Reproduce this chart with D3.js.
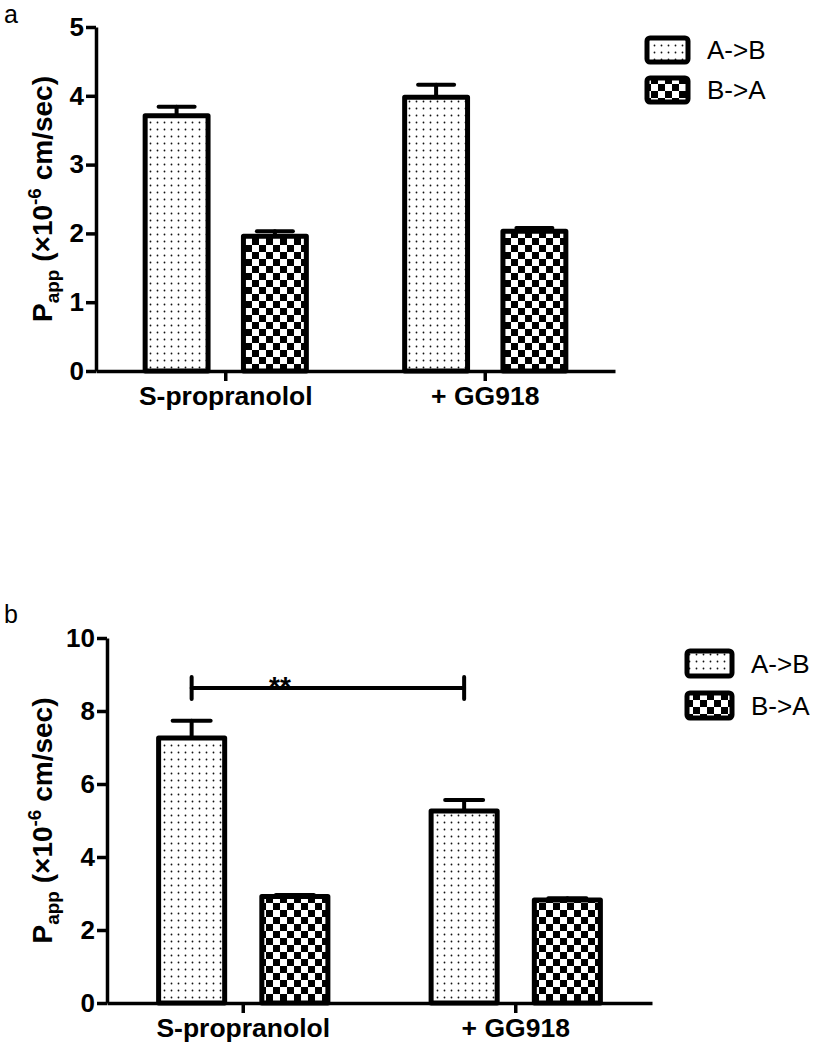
<!DOCTYPE html>
<meta charset="utf-8">
<style>
  body { margin: 0; background: #fff; }
  text { font-family: "Liberation Sans", Arial, sans-serif; }
</style>
<svg width="825" height="1050"></svg>

<script src="https://d3js.org/d3.v7.min.js"></script>
<script>
var categories = ["S-propranolol", "+ GG918"]
var series = ["A->B", "B->A"]

// panel a
var meanA_AB = [3.71, 3.98]
var meanA_BA = [1.96, 2.03]
var semA_AB = [0.13, 0.18]
var semA_BA = [0.07, 0.05]
var ticksA = [0, 1, 2, 3, 4, 5]

// panel b
var meanB_AB = [7.26, 5.26]
var meanB_BA = [2.92, 2.82]
var semB_AB = [0.47, 0.30]
var semB_BA = [0.04, 0.05]
var ticksB = [0, 2, 4, 6, 8, 10]
var sigB = { from: "S-propranolol", to: "+ GG918", series: "A->B", value: 8.63, label: "**" }

var svg = d3.select('svg')
var defs = svg.append('defs')

// dotted fill for A->B
var dots = defs.append('pattern').attr('id', 'dots')
  .attr('patternUnits', 'userSpaceOnUse').attr('width', 7).attr('height', 7)
dots.append('rect').attr('width', 7).attr('height', 7).attr('fill', '#fff')
dots.append('circle').attr('cx', 3.5).attr('cy', 3.5).attr('r', 0.9).attr('fill', '#111')

// checkerboard fill for B->A
var checker = defs.append('pattern').attr('id', 'checker')
  .attr('patternUnits', 'userSpaceOnUse').attr('width', 14).attr('height', 14)
checker.append('rect').attr('width', 14).attr('height', 14).attr('fill', '#fff')
checker.append('rect').attr('width', 7).attr('height', 7).attr('fill', '#000')
checker.append('rect').attr('x', 7).attr('y', 7).attr('width', 7).attr('height', 7).attr('fill', '#000')

var fills = { "A->B": 'url(#dots)', "B->A": 'url(#checker)' }

function drawPanel(p) {
  var g = svg.append('g')

  var y = d3.scaleLinear().domain(p.domain).range([p.y0, p.y1])
  var x0 = d3.scaleBand().domain(categories).range([p.x0, p.x1])
  var x1 = d3.scaleBand().domain(series).range([0, x0.bandwidth()])
    .paddingInner(0.36).paddingOuter(0.5)

  var rows = []
  categories.forEach(function (c, i) {
    rows.push({ cat: c, ser: "A->B", mean: p.ab[i], sem: p.abErr[i] })
    rows.push({ cat: c, ser: "B->A", mean: p.ba[i], sem: p.baErr[i] })
  })

  // error bars (drawn first so the bar outline sits over the stem)
  var eb = g.append('g').attr('stroke', '#000').attr('stroke-width', 4).attr('stroke-linecap', 'round')
  rows.forEach(function (d) {
    var cx = x0(d.cat) + x1(d.ser) + x1.bandwidth() / 2
    eb.append('line').attr('x1', cx).attr('x2', cx)
      .attr('y1', y(d.mean)).attr('y2', y(d.mean + d.sem))
    eb.append('line').attr('x1', cx - p.cap).attr('x2', cx + p.cap)
      .attr('y1', y(d.mean + d.sem)).attr('y2', y(d.mean + d.sem))
  })

  g.append('g').selectAll('rect').data(rows).enter().append('rect')
    .attr('x', function (d) { return x0(d.cat) + x1(d.ser) })
    .attr('y', function (d) { return y(d.mean) })
    .attr('width', x1.bandwidth())
    .attr('height', function (d) { return y(0) - y(d.mean) })
    .attr('fill', function (d) { return fills[d.ser] })
    .attr('stroke', '#000').attr('stroke-width', 5)
    .attr('stroke-linejoin', 'round')

  // y axis
  var ya = g.append('g').attr('transform', 'translate(' + p.x0 + ',0)')
    .call(d3.axisLeft(y).tickValues(p.ticks).tickFormat(d3.format('d'))
      .tickSize(10).tickSizeOuter(0).tickPadding(2))
  ya.selectAll('path, line').attr('stroke', '#000').attr('stroke-width', 3.5)
  ya.selectAll('text').attr('font-size', 26).attr('font-weight', 'bold').attr('fill', '#000')
    .attr('font-family', '"Liberation Sans", Arial, sans-serif')

  // x axis
  var xa = g.append('g').attr('transform', 'translate(0,' + p.y0 + ')')
    .call(d3.axisBottom(x0).tickSize(10).tickSizeOuter(0).tickPadding(5))
  xa.selectAll('path, line').attr('stroke', '#000').attr('stroke-width', 3.5)
  xa.selectAll('text').attr('font-size', 26.5).attr('font-weight', 'bold').attr('fill', '#000')
    .attr('font-family', '"Liberation Sans", Arial, sans-serif')

  // y title
  var t = g.append('text')
    .attr('transform', 'translate(' + p.titleX + ',' + (p.y0 + p.y1) / 2 + ') rotate(-90)')
    .attr('text-anchor', 'middle').attr('font-weight', 'bold').attr('font-size', 28)
  t.append('tspan').text('P')
  t.append('tspan').attr('font-size', 19).attr('dy', 7).text('app')
  t.append('tspan').attr('dy', -7).text('\u00a0(×10')
  t.append('tspan').attr('font-size', 19).attr('dy', -11).text('-6')
  t.append('tspan').attr('dy', 11).text('\u00a0cm/sec)')

  // panel letter
  g.append('text').attr('x', 4).attr('y', p.letterY).attr('font-size', 25).text(p.letter)

  // legend
  var lg = g.append('g')
  series.forEach(function (s, i) {
    lg.append('rect')
      .attr('x', p.legX).attr('y', p.legY + i * p.legStep)
      .attr('width', p.legW).attr('height', p.legH).attr('rx', 3)
      .attr('fill', fills[s]).attr('stroke', '#000').attr('stroke-width', 5)
    lg.append('text')
      .attr('x', p.legX + p.legW + 19).attr('y', p.legY + i * p.legStep + p.legH / 2 + 9)
      .attr('font-size', 26).text(s)
  })

  // significance bracket
  if (p.sig) {
    var sx1 = x0(p.sig.from) + x1(p.sig.series) + x1.bandwidth() / 2
    var sx2 = x0(p.sig.to) + x1(p.sig.series) + x1.bandwidth() / 2
    var sy = y(p.sig.value)
    var br = g.append('g').attr('stroke', '#000').attr('stroke-width', 4).attr('stroke-linecap', 'round')
    br.append('line').attr('x1', sx1).attr('x2', sx2).attr('y1', sy).attr('y2', sy)
    br.append('line').attr('x1', sx1).attr('x2', sx1).attr('y1', sy - 11).attr('y2', sy + 11)
    br.append('line').attr('x1', sx2).attr('x2', sx2).attr('y1', sy - 11).attr('y2', sy + 11)
    g.append('text').attr('x', (sx1 + sx2) / 2 - 48).attr('y', sy + 8)
      .attr('text-anchor', 'middle').attr('font-size', 28).attr('font-weight', 'bold')
      .text(p.sig.label)
  }
}

drawPanel({
  letter: 'a', letterY: 23,
  ab: meanA_AB, ba: meanA_BA, abErr: semA_AB, baErr: semA_BA,
  domain: [0, 5], ticks: ticksA,
  x0: 96, x1: 615, y0: 371, y1: 27, cap: 18, titleX: 52,
  legX: 647, legY: 38, legW: 41, legH: 24, legStep: 40
})

drawPanel({
  letter: 'b', letterY: 623,
  ab: meanB_AB, ba: meanB_BA, abErr: semB_AB, baErr: semB_BA,
  domain: [0, 10], ticks: ticksB,
  x0: 107, x1: 652, y0: 1003, y1: 638, cap: 19, titleX: 52,
  legX: 687, legY: 651, legW: 45, legH: 25, legStep: 42,
  sig: sigB
})
</script>
